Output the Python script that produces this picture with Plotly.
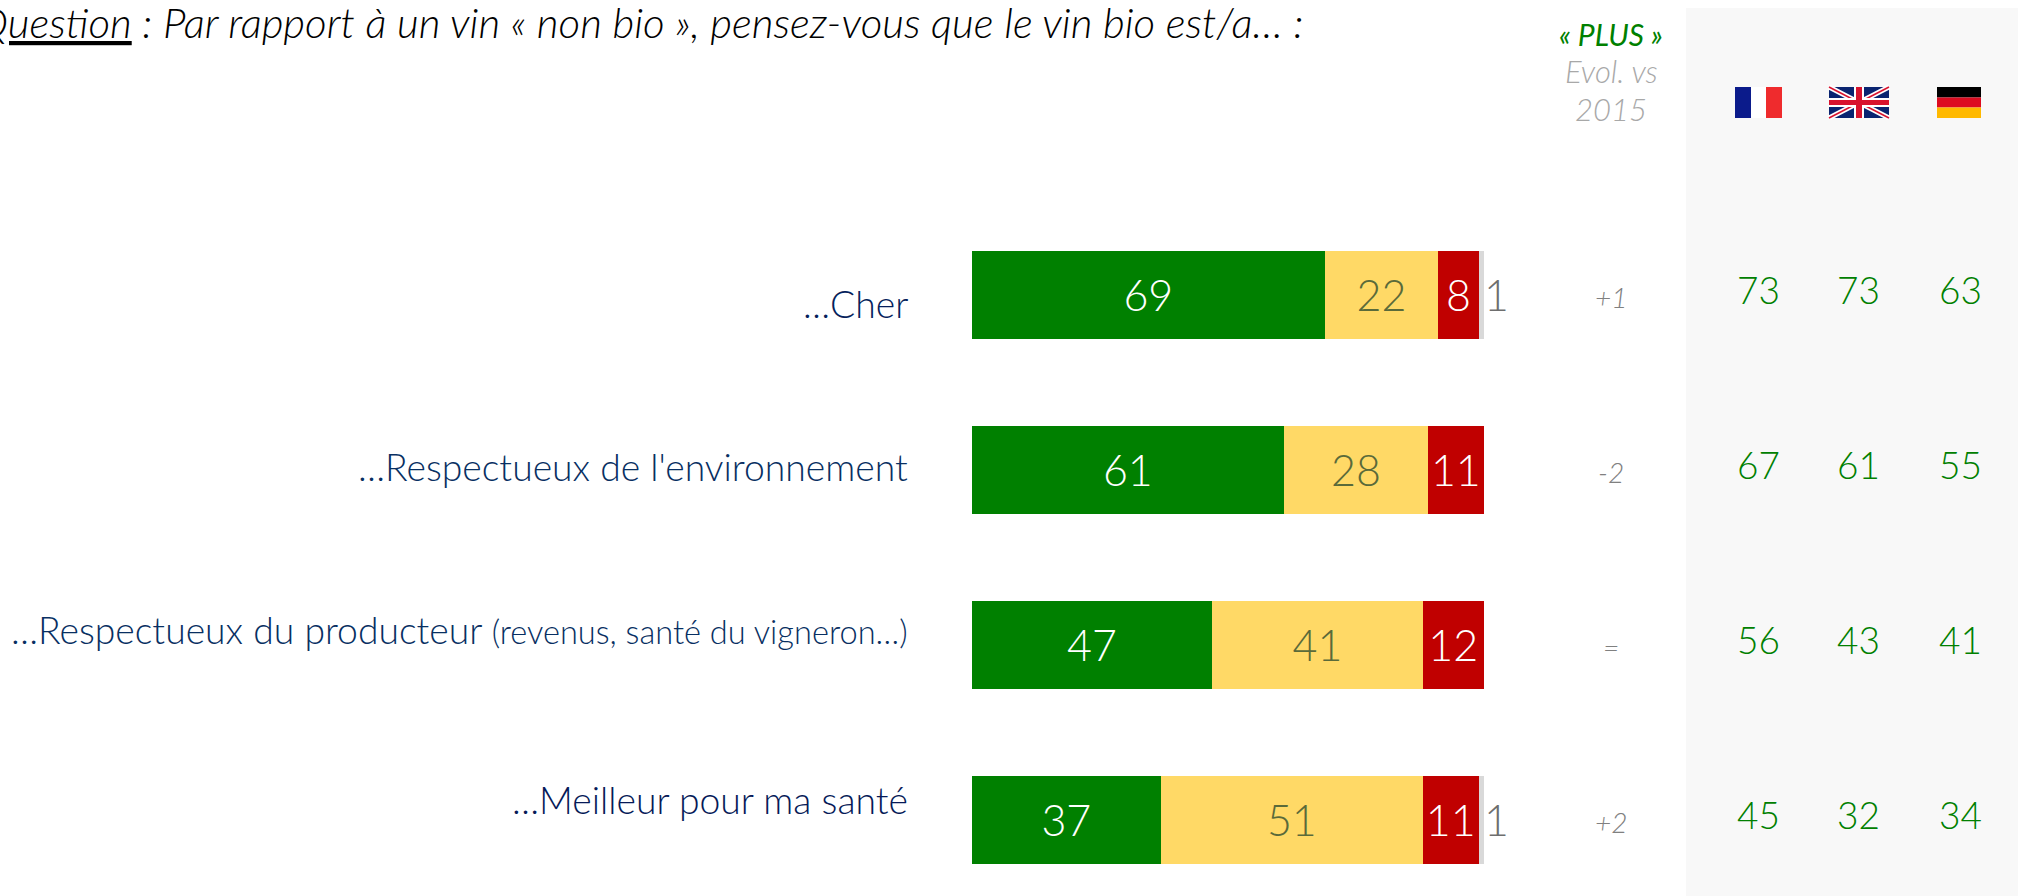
import plotly.graph_objects as go

W, H = 2018, 896

labels = ["…Cher", "…Respectueux de l'environnement",
          "…Respectueux du producteur <span style=\"font-size:32.6px\">(revenus, santé du vigneron…)</span>",
          "…Meilleur pour ma santé"]
cats = ["Cher", "Environnement", "Producteur", "Santé"]
plus = [69, 61, 47, 37]
autant = [22, 28, 41, 51]
moins = [8, 11, 12, 11]
nsp = [1, 0, 0, 1]
evol = ["+1", "-2", "=", "+2"]
france = [73, 67, 56, 45]
uk = [73, 61, 43, 32]
germany = [63, 55, 41, 34]
label_colors = ["#061F5C", "#082F62", "#082F62", "#061A58"]
label_shift = [-8.5, 3.5, 15, 20.5]

FONT = "Lato"
px = lambda v: v / W
py = lambda v: 1 - v / H
X0, X1 = 971.5, 1484
vx = lambda v: (X0 + (X1 - X0) * v / 100) / W

fig = go.Figure()
for name, vals, col, tcol in [("Plus", plus, "#008000", "#FFFFFF"),
                              ("Autant", autant, "#FFD966", "#5A6A3A"),
                              ("Moins", moins, "#C00000", "#FFFFFF")]:
    fig.add_trace(go.Bar(name=name, y=cats, x=vals, orientation="h", marker=dict(color=col, line=dict(width=0)),
                         text=vals, textposition="inside", insidetextanchor="middle", textangle=0,
                         constraintext="none", cliponaxis=False,
                         textfont=dict(family=FONT, size=43, color=tcol, weight=300)))
fig.add_trace(go.Bar(name="NSP", y=cats, x=nsp, orientation="h", marker=dict(color="#D9D9D9", line=dict(width=0))))

ann = []
def t(x, y, text, size, color, yref="paper", xanchor="center", yshift=0, italic=False, weight=300):
    ann.append(dict(x=x, y=y, text=text, xref="paper", yref=yref, xanchor=xanchor, yanchor="middle", yshift=yshift,
                    showarrow=False, font=dict(family=FONT, size=size, color=color, weight=weight,
                                               style="italic" if italic else "normal")))

for lab, c, col, sh in zip(labels, cats, label_colors, label_shift):
    t(vx(-12), c, lab, 37.3, col, yref="y", xanchor="right", yshift=sh)
for c, a, b, d, v in zip(cats, plus, autant, moins, nsp):
    if v:
        t(vx(a + b + d + v + 2.5), c, str(v), 43, "#6E6E6E", yref="y")
for c, e in zip(cats, evol):
    t(px(1611), c, e, 28, "#808080", yref="y", yshift=-2, italic=True)
for xc, vals in [(1758, france), (1858, uk), (1960, germany)]:
    for c, v in zip(cats, vals):
        t(px(xc), c, str(v), 37, "#008000", yref="y", yshift=5)

t(px(1305), py(21), "<u>Question</u> : Par rapport à un vin « non bio », pensez-vous que le vin bio est/a… :",
  42.1, "#000000", xanchor="right", italic=True)
t(px(1611), py(34), "« PLUS »", 30, "#008000", italic=True, weight=400)
t(px(1611), py(71), "Evol. vs", 31, "#A8A8A8", italic=True)
t(px(1611), py(109), "2015", 31, "#A8A8A8", italic=True)

shapes = [dict(type="rect", xref="paper", yref="paper", x0=px(1686), x1=1, y0=0, y1=py(8),
               fillcolor="#F8F8F8", line_width=0, layer="below")]
def rect(x0, x1, y0, y1, col):
    shapes.append(dict(type="rect", xref="paper", yref="paper", x0=px(x0), x1=px(x1), y0=py(y1), y1=py(y0),
                       fillcolor=col, line_width=0, layer="above"))
def line(x0, y0, x1, y1, col, w):
    shapes.append(dict(type="line", xref="paper", yref="paper", x0=px(x0), x1=px(x1), y0=py(y0), y1=py(y1),
                       line=dict(color=col, width=w), layer="above"))

# France
rect(1735, 1751, 87, 118, "#0B1B8B"); rect(1751, 1766, 87, 118, "#FFFFFF"); rect(1766, 1782, 87, 118, "#EF2B2D")
# United Kingdom
rect(1829, 1889, 87, 118, "#0A2470")
line(1829, 87, 1889, 118, "#FFFFFF", 5); line(1829, 118, 1889, 87, "#FFFFFF", 5)
line(1829, 87, 1889, 118, "#D8132E", 1.5); line(1829, 118, 1889, 87, "#D8132E", 1.5)
rect(1829, 1889, 98, 107, "#FFFFFF"); rect(1854, 1864, 87, 118, "#FFFFFF")
rect(1829, 1889, 100, 105, "#D8132E"); rect(1856, 1862, 87, 118, "#D8132E")
# Germany
rect(1937, 1981, 87, 97.5, "#000000"); rect(1937, 1981, 97.5, 107.5, "#DD0C21"); rect(1937, 1981, 107.5, 118, "#FFB900")

fig.update_layout(
    width=W, height=H, margin=dict(l=0, r=0, t=0, b=0), barmode="stack", bargap=1 - 88 / 175,
    paper_bgcolor="#FFFFFF", plot_bgcolor="rgba(0,0,0,0)", showlegend=False,
    annotations=ann, shapes=shapes,
    xaxis=dict(domain=[X0 / W, X1 / W], range=[0, 100], visible=False),
    yaxis=dict(domain=[0, 1], type="category", categoryorder="array", categoryarray=cats,
               range=[(H - 294.5) / 175, -294.5 / 175], visible=False),
)
fig.write_html("out.html", config=dict(displayModeBar=False),
               post_script="document.body.style.margin='0';document.body.style.overflow='hidden';")
